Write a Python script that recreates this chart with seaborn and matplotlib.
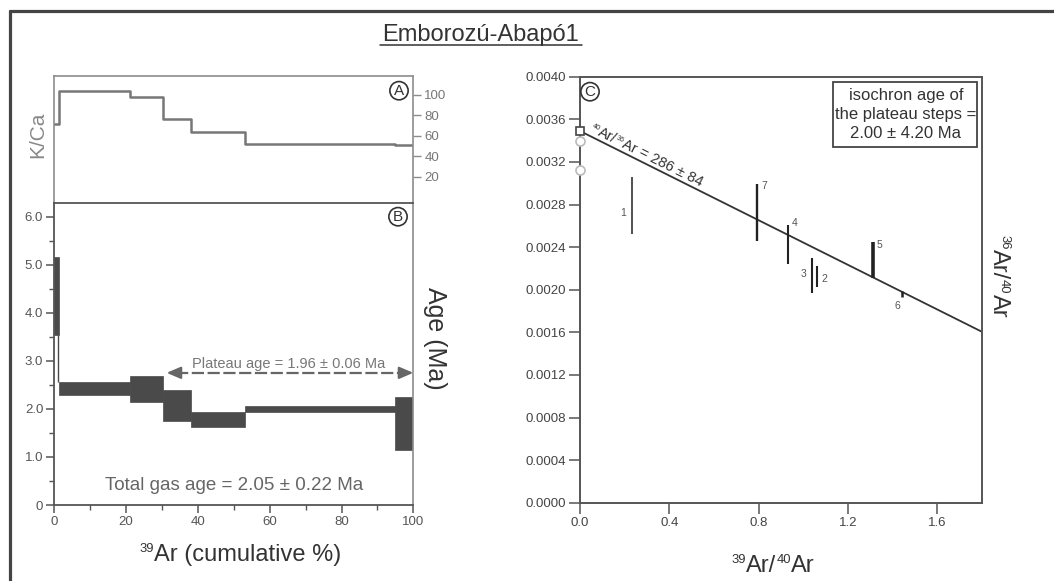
import numpy as np
import matplotlib
matplotlib.use("Agg")
import matplotlib.pyplot as plt
import matplotlib.patches as mpatches
from matplotlib.lines import Line2D
from matplotlib.ticker import MultipleLocator, FixedLocator
import pandas as pd
import seaborn as sns

# ---------------- data ----------------
title = "Emborozú-Abapó1"

# step-heating spectrum (cumulative 39Ar %)
step_edges = [0.0, 1.4, 21.1, 30.4, 38.1, 53.1, 94.9, 100.0]
kca_values = [72.0, 104.0, 97.7, 76.0, 63.5, 51.7, 51.0]
age_low = [3.54, 2.29, 2.15, 1.75, 1.63, 1.93, 1.14]
age_high = [5.17, 2.55, 2.68, 2.39, 1.93, 2.06, 2.25]
plateau_start = 31.3
plateau_end = 100.0
plateau_level = 2.75
plateau_label = "Plateau age = 1.96 ± 0.06 Ma"
total_gas_label = "Total gas age = 2.05 ± 0.22 Ma"

kca_ticks = [20, 40, 60, 80, 100]
age_ticks = [0, 1, 2, 3, 4, 5, 6]
age_ticklabels = ["0", "1.0", "2.0", "3.0", "4.0", "5.0", "6.0"]
cum_ticks = [0, 20, 40, 60, 80, 100]

# isochron
iso_steps = ["1", "2", "3", "4", "5", "6", "7"]
iso_x = [0.232, 1.061, 1.039, 0.930, 1.311, 1.443, 0.793]
iso_low = [0.00252, 0.00203, 0.00197, 0.00224, 0.00211, 0.00193, 0.00246]
iso_high = [0.00306, 0.00222, 0.00230, 0.00261, 0.00245, 0.00199, 0.00299]
iso_intercept = 0.00349
iso_x_end = 1.8
iso_y_end = 0.001606
atm_y = [0.00340, 0.00312]
iso_line_label = [("40", True), ("Ar/", False), ("36", True), ("Ar = 286 ± 84", False)]
iso_box_lines = ["isochron age of", "the plateau steps =", "2.00 ± 4.20 Ma"]
iso_xticks = [0.0, 0.4, 0.8, 1.2, 1.6]
iso_yticks = [0.0000, 0.0004, 0.0008, 0.0012, 0.0016, 0.0020,
              0.0024, 0.0028, 0.0032, 0.0036, 0.0040]

xlabel_b = [("39", True), ("Ar (cumulative %)", False)]
xlabel_c = [("39", True), ("Ar/", False), ("40", True), ("Ar", False)]
ylabel_c = [("36", True), ("Ar/", False), ("40", True), ("Ar", False)]

# styles (not data)
iso_lw = [1.1, 1.5, 1.5, 1.5, 2.6, 1.8, 1.7]
iso_lab = {
    "1": ("mid", (-4, -5), "right", "center"),
    "2": ("mid", (3, -2), "left", "center"),
    "3": ("mid", (-4, 1), "right", "center"),
    "4": ("high", (3, 1), "left", "center"),
    "5": ("high", (3, -2), "left", "center"),
    "6": ("low", (-3, -3), "center", "top"),
    "7": ("high", (3, -1), "left", "center"),
}

# ---------------- figure ----------------
sns.set_theme(style="ticks")
plt.rcParams["font.family"] = ["Liberation Sans", "DejaVu Sans"]

W, H = 1054, 581
fig = plt.figure(figsize=(W / 100, H / 100), dpi=100)
fig.patch.set_facecolor("white")
renderer = fig.canvas.get_renderer()


def fx(px):
    return px / W


def fy(py):
    return 1 - py / H


def rect(l, t, r, b):
    return [fx(l), fy(b), fx(r) - fx(l), fy(t) - fy(b)]


def rich_text(cx, cy, segments, fontsize, rotation=0.0, color="#333333",
              sup_scale=0.55):
    """Draw text with small superscripts, centred at display pixel (cx, cy)."""
    fs_px = fontsize * 100 / 72
    widths = []
    for s, sup in segments:
        t = fig.text(0, 0, s, fontsize=fontsize * (sup_scale if sup else 1))
        widths.append(t.get_window_extent(renderer).width)
        t.remove()
    total = sum(widths)
    r = np.radians(rotation)
    d = np.array([np.cos(r), np.sin(r)])
    u = np.array([-np.sin(r), np.cos(r)])
    start = np.array([cx, cy]) - d * total / 2 - u * (0.36 * fs_px)
    cum = 0.0
    for (s, sup), w in zip(segments, widths):
        p = start + d * cum
        if sup:
            p = p + u * (0.716 * fs_px * (1 - sup_scale) + 0.04 * fs_px)
        fig.text(p[0] / W, p[1] / H, s, fontsize=fontsize * (sup_scale if sup else 1),
                 rotation=rotation, rotation_mode="anchor", ha="left",
                 va="baseline", color=color)
        cum += w


ax_a = fig.add_axes(rect(54.3, 76, 413.3, 202.7))
ax_b = fig.add_axes(rect(54.3, 202.7, 413.3, 505))
ax_c = fig.add_axes(rect(580, 76.7, 981.7, 502.7))

dark = "#4a4a4a"
mid = "#777777"
light = "#8c8c8c"

# ---- Panel A: K/Ca ----
kdf = pd.DataFrame({"x": step_edges, "kca": kca_values + [kca_values[-1]]})
sns.lineplot(data=kdf, x="x", y="kca", ax=ax_a, drawstyle="steps-post",
             color=mid, lw=1.8)
ax_a.set_xlim(0, 100)
ax_a.set_ylim(-5.5, 118.6)
ax_a.set_xlabel("")
ax_a.set_ylabel("")
ax_a.set_xticks([])
ax_a.yaxis.tick_right()
ax_a.yaxis.set_major_locator(FixedLocator(kca_ticks))
ax_a.tick_params(axis="y", direction="out", length=6, width=1, color=light,
                 labelcolor=mid, labelsize=9.5, pad=2)
for s in ["top", "right", "left"]:
    ax_a.spines[s].set_color(light)
    ax_a.spines[s].set_linewidth(1.2)
ax_a.spines["bottom"].set_visible(False)
ax_a.set_facecolor("white")

# ---- Panel B: age spectrum ----
lefts = np.array(step_edges[:-1])
widths_b = np.diff(step_edges)
lows = np.array(age_low)
highs = np.array(age_high)
ax_b.bar(lefts, highs - lows, bottom=lows, width=widths_b, align="edge",
         color=dark, edgecolor=dark, linewidth=0.5)
for i in range(1, len(lows)):
    if lows[i - 1] > highs[i]:
        ax_b.vlines(step_edges[i] - 0.3, highs[i], lows[i - 1], color=dark, lw=1)
    elif highs[i - 1] < lows[i]:
        ax_b.vlines(step_edges[i] - 0.3, highs[i - 1], lows[i], color=dark, lw=1)

ax_b.set_xlim(0, 100)
ax_b.set_ylim(0, 6.29)
ax_b.yaxis.set_major_locator(FixedLocator(age_ticks))
ax_b.set_yticklabels(age_ticklabels)
ax_b.yaxis.set_minor_locator(MultipleLocator(0.5))
ax_b.xaxis.set_major_locator(FixedLocator(cum_ticks))
ax_b.xaxis.set_minor_locator(MultipleLocator(10))
ax_b.tick_params(which="major", direction="out", length=6, width=1.1,
                 color="#555555", labelcolor="#555555", labelsize=9.5, pad=2)
ax_b.tick_params(which="minor", direction="out", length=3.5, width=1,
                 color="#555555")
for s in ["left", "bottom", "top"]:
    ax_b.spines[s].set_color("#555555")
    ax_b.spines[s].set_linewidth(1.3)
ax_b.spines["right"].set_color(light)
ax_b.spines["right"].set_linewidth(1.2)
ax_b.set_facecolor("white")

# plateau arrow
ax_b.hlines(plateau_level, plateau_start + 2.5, plateau_end - 2.5, color="#666666",
            lw=1.6, linestyles=[(0, (5.5, 1.6))])
for tip, tail in [(plateau_start, plateau_start + 3.5), (plateau_end, plateau_end - 3.5)]:
    ax_b.annotate("", xy=(tip, plateau_level), xytext=(tail, plateau_level),
                  arrowprops=dict(arrowstyle="-|>,head_length=0.7,head_width=0.3",
                                  color="#666666", lw=1.6, shrinkA=0, shrinkB=0))
ax_b.text((plateau_start + plateau_end) / 2 - 0.5, plateau_level + 0.18, plateau_label,
          ha="center", va="center", fontsize=10.5, color="#777777")
ax_b.text(50, 0.40, total_gas_label, ha="center", va="center",
          fontsize=13.5, color="#666666")

# ---- Panel C: isochron ----
line_df = pd.DataFrame({"x": [0.0, iso_x_end], "y": [iso_intercept, iso_y_end]})
sns.lineplot(data=line_df, x="x", y="y", ax=ax_c, color="#333333", lw=1.3)
for x, lo, hi, lw in zip(iso_x, iso_low, iso_high, iso_lw):
    ax_c.vlines(x, lo, hi, color="#222222", lw=lw)
for name, x, lo, hi in zip(iso_steps, iso_x, iso_low, iso_high):
    where, off, ha, va = iso_lab[name]
    yy = {"mid": (lo + hi) / 2, "high": hi, "low": lo}[where]
    ax_c.annotate(name, xy=(x, yy), xytext=off, textcoords="offset points",
                  ha=ha, va=va, fontsize=7.5, color="#555555")
ax_c.plot([0], [iso_intercept], marker="s", ms=6, mfc="white", mec="#444444",
          mew=1.2, clip_on=False, zorder=5)
ax_c.plot([0] * len(atm_y), atm_y, ls="none", marker="o", ms=6.5, mfc="white",
          mec="#bbbbbb", mew=1.2, clip_on=False, zorder=5)

ax_c.set_xlim(0, 1.8)
ax_c.set_ylim(0, 0.004)
ax_c.set_xlabel("")
ax_c.set_ylabel("")
ax_c.xaxis.set_major_locator(FixedLocator(iso_xticks))
ax_c.set_xticklabels([f"{v:.1f}" for v in iso_xticks])
ax_c.yaxis.set_major_locator(FixedLocator(iso_yticks))
ax_c.set_yticklabels([f"{v:.4f}" for v in iso_yticks])
ax_c.tick_params(direction="out", length=8, width=1.1, color="#555555",
                 labelcolor="#444444", labelsize=9.5, pad=2)
for s in ax_c.spines.values():
    s.set_color("#555555")
    s.set_linewidth(1.4)
ax_c.set_facecolor("white")

# rotated line label
fig.canvas.draw()
p1 = ax_c.transData.transform((0.0, iso_intercept))
p2 = ax_c.transData.transform((iso_x_end, iso_y_end))
ang = np.degrees(np.arctan2(p2[1] - p1[1], p2[0] - p1[0]))
lc = ax_c.transData.transform((0.30, 0.003268))
rich_text(lc[0], lc[1], iso_line_label, 10.5, rotation=ang, color="#333333",
          sup_scale=0.5)

# isochron box
fig.add_artist(mpatches.Rectangle((fx(833), fy(146.7)), fx(976.7) - fx(833),
                                  fy(81.7) - fy(146.7), transform=fig.transFigure,
                                  fill=False, edgecolor="#444444", lw=1.3))
for i, ln in enumerate(iso_box_lines):
    fig.text(fx(906), fy(95 + i * 19.5), ln, ha="center", va="center",
             fontsize=12, color="#333333")

# circled panel letters
for letter, (px, py) in {"A": (399, 90.7), "B": (398, 216.7), "C": (590, 91.7)}.items():
    fig.text(fx(px), fy(py), letter, ha="center", va="center", fontsize=11,
             color="#333333",
             bbox=dict(boxstyle="circle,pad=0.14", fc="none", ec="#333333", lw=1.2))

# axis labels
fig.text(fx(38), fy(135), "K/Ca", rotation=90, ha="center", va="center",
         fontsize=15, color="#888888")
fig.text(fx(435), fy(338), "Age (Ma)", rotation=270, ha="center", va="center",
         fontsize=18, color="#333333")
rich_text(240, H - 552, xlabel_b, 17, color="#333333")
rich_text(773, H - 563, xlabel_c, 17, color="#333333")
rich_text(1001, H - 276, ylabel_c, 17, rotation=270, color="#333333")

# title with underline
fig.text(fx(481), fy(41), title, ha="center", va="baseline", fontsize=17,
         color="#333333")
fig.add_artist(Line2D([fx(380), fx(582)], [fy(44.5), fy(44.5)],
                      transform=fig.transFigure, color="#333333", lw=1.1))

# outer frame (top and left edges)
fig.add_artist(Line2D([fx(9.5), fx(W)], [fy(10.5), fy(10.5)],
                      transform=fig.transFigure, color="#444444", lw=2.3))
fig.add_artist(Line2D([fx(9.5), fx(9.5)], [fy(10.5), fy(H)],
                      transform=fig.transFigure, color="#444444", lw=2.3))

fig.savefig("out.png", dpi=100, facecolor="white")
